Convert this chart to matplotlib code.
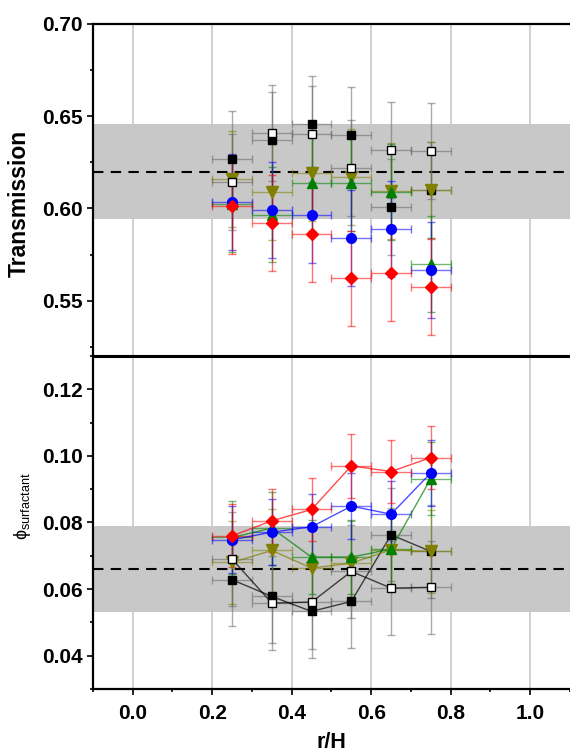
import matplotlib
matplotlib.use('Agg')
import matplotlib.pyplot as plt
from matplotlib.ticker import MultipleLocator

plt.rcParams['font.family'] = ['Liberation Sans', 'DejaVu Sans']
plt.rcParams['mathtext.fontset'] = 'custom'
plt.rcParams['mathtext.rm'] = 'Liberation Sans'
plt.rcParams['mathtext.it'] = 'Liberation Sans'

# positions r/H
r_over_h = [0.25, 0.35, 0.45, 0.55, 0.65, 0.75]
x_halfwidth = 0.05

# transmission (top panel)
trans_black = [0.6266, 0.6369, 0.6456, 0.6398, 0.6009, 0.6100]
trans_open = [0.6145, 0.6409, 0.6402, 0.6217, 0.6315, 0.6313]
trans_olive = [0.6161, 0.6090, 0.6190, 0.6172, 0.6094, 0.6100]
trans_green = [0.6025, 0.5967, 0.6140, 0.6140, 0.6090, 0.5701]
trans_blue = [0.6034, 0.5991, 0.5962, 0.5841, 0.5886, 0.5664]
trans_red = [0.6013, 0.5922, 0.5860, 0.5620, 0.5651, 0.5576]
trans_err = 0.026
trans_mean = 0.620
trans_band = 0.026

# surfactant volume fraction (bottom panel)
phi_black = [0.0628, 0.0578, 0.0533, 0.0563, 0.0763, 0.0713]
phi_open = [0.0690, 0.0558, 0.0561, 0.0653, 0.0603, 0.0605]
phi_olive = [0.0680, 0.0716, 0.0663, 0.0678, 0.0718, 0.0713]
phi_green = [0.0755, 0.0783, 0.0696, 0.0696, 0.0720, 0.0932]
phi_blue = [0.0748, 0.0771, 0.0787, 0.0849, 0.0825, 0.0949]
phi_red = [0.0760, 0.0805, 0.0839, 0.0970, 0.0953, 0.0995]
phi_errs = {'black': 0.014, 'open': 0.014, 'olive': 0.0125,
            'green': 0.011, 'blue': 0.010, 'red': 0.0095}
phi_mean = 0.066
phi_band = 0.013

x_ticks = [0.0, 0.2, 0.4, 0.6, 0.8, 1.0]

# drawing order: black, olive, open, green, blue, red
styles = [
    ('black', 's', 'black', 'black'),
    ('olive', 'v', '#808000', '#808000'),
    ('open', 's', 'white', 'black'),
    ('green', '^', '#008000', '#008000'),
    ('blue', 'o', '#0000ff', '#0000ff'),
    ('red', 'D', '#ff0000', '#ff0000'),
]
trans_data = {'black': trans_black, 'open': trans_open, 'olive': trans_olive,
              'green': trans_green, 'blue': trans_blue, 'red': trans_red}
phi_data = {'black': phi_black, 'open': phi_open, 'olive': phi_olive,
            'green': phi_green, 'blue': phi_blue, 'red': phi_red}
msize = {'s': 6.2, 'v': 8, '^': 7.5, 'o': 7, 'D': 6}

fig = plt.figure(figsize=(5.7, 7.54), dpi=100)
ax1 = fig.add_axes([0.163, 0.5279, 0.837, 0.4403])
ax2 = fig.add_axes([0.163, 0.0862, 0.837, 0.4417])


def style_axes(ax):
    for t in x_ticks:
        ax.axvline(t, color='#c8c8c8', lw=1.2, zorder=0)
    ax.set_xlim(-0.1, 1.1)
    ax.xaxis.set_major_locator(MultipleLocator(0.2))
    ax.xaxis.set_minor_locator(MultipleLocator(0.1))
    ax.tick_params(which='both', direction='out', width=1.2, labelsize=15)
    ax.tick_params(which='major', length=4.5, pad=3)
    ax.tick_params(which='minor', length=2.5)
    ax.tick_params(axis='x', which='major', pad=6)
    ax.spines['right'].set_visible(False)
    for s in ['left', 'bottom', 'top']:
        ax.spines[s].set_linewidth(1.6)
    for lab in ax.get_xticklabels() + ax.get_yticklabels():
        lab.set_fontweight('bold')


# top panel
ax1.axhspan(trans_mean - trans_band, trans_mean + trans_band, color='#c8c8c8', lw=0, zorder=0.5)
ax1.axhline(trans_mean, color='black', ls=(0, (5, 3.5)), lw=1.5, zorder=1)
for name, mk, fc, ec in styles:
    ecol = (0.4, 0.4, 0.4) if ec == 'black' else ec
    ax1.errorbar(r_over_h, trans_data[name], xerr=x_halfwidth, yerr=trans_err, fmt='none',
                 ecolor=ecol, alpha=0.55, elinewidth=1, capsize=3, capthick=1, zorder=2)
    ax1.plot(r_over_h, trans_data[name], ls='none', marker=mk, ms=msize[mk],
             mfc=fc, mec=ec, mew=1, zorder=3)
ax1.set_ylim(0.52, 0.70)
ax1.yaxis.set_major_locator(MultipleLocator(0.05))
ax1.yaxis.set_minor_locator(MultipleLocator(0.025))
ax1.yaxis.set_major_formatter(matplotlib.ticker.FormatStrFormatter('%.2f'))
style_axes(ax1)
ax1.tick_params(axis='x', labelbottom=False)
ax1.spines['bottom'].set_linewidth(2.2)
ax1.set_ylabel('Transmission', fontsize=16.5, fontweight='bold')
ax1.yaxis.set_label_coords(-0.13, 0.46)

# bottom panel
ax2.axhspan(phi_mean - phi_band, phi_mean + phi_band, color='#c8c8c8', lw=0, zorder=0.5)
ax2.axhline(phi_mean, color='black', ls=(0, (5, 3.5)), lw=1.5, zorder=1)
for name, mk, fc, ec in styles:
    ecol = (0.4, 0.4, 0.4) if ec == 'black' else ec
    ax2.errorbar(r_over_h, phi_data[name], xerr=x_halfwidth, yerr=phi_errs[name], fmt='none',
                 ecolor=ecol, alpha=0.55, elinewidth=1, capsize=3, capthick=1, zorder=2)
    ax2.plot(r_over_h, phi_data[name], color=ec, lw=1, alpha=0.7, zorder=2.5)
    ax2.plot(r_over_h, phi_data[name], ls='none', marker=mk, ms=msize[mk],
             mfc=fc, mec=ec, mew=1, zorder=3)
ax2.set_ylim(0.03, 0.13)
ax2.yaxis.set_major_locator(MultipleLocator(0.02))
ax2.yaxis.set_minor_locator(MultipleLocator(0.01))
ax2.yaxis.set_major_formatter(matplotlib.ticker.FormatStrFormatter('%.2f'))
ax2.xaxis.set_major_formatter(matplotlib.ticker.FormatStrFormatter('%.1f'))
style_axes(ax2)
ax2.spines['top'].set_linewidth(2.2)
ax2.set_ylabel(r'$\mathregular{\phi_{surfactant}}$', fontsize=13)
ax2.yaxis.set_label_coords(-0.125, 0.55)
ax2.set_xlabel('r/H', fontsize=15.5, fontweight='bold')
ax2.xaxis.set_label_coords(0.5, -0.128)

fig.savefig('out.png', dpi=100)
